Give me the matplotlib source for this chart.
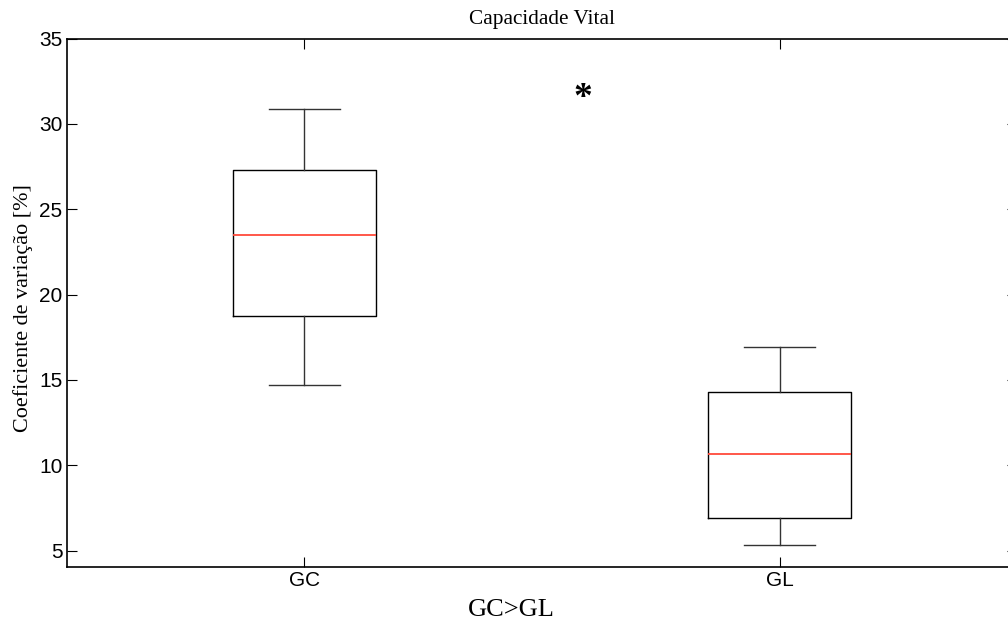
import matplotlib
matplotlib.use("Agg")
import matplotlib.pyplot as plt

# group names and box statistics
groups = ["GC", "GL"]
whisker_low = [14.7, 5.33]
q1 = [18.77, 6.93]
median = [23.5, 10.66]
q3 = [27.3, 14.28]
whisker_high = [30.87, 16.95]

# significance marker
star_x = 1.586
star_y = 31.5

stats = []
for i in range(len(groups)):
    stats.append({"label": groups[i], "whislo": whisker_low[i], "q1": q1[i],
                  "med": median[i], "q3": q3[i], "whishi": whisker_high[i],
                  "fliers": []})

fig = plt.figure(figsize=(10.08, 6.23), dpi=100)
ax = fig.add_axes([66.6 / 1008, 1 - 566.7 / 623, 950.8 / 1008, 528.1 / 623])

box_color = "#333333"
ax.bxp(stats, positions=[1, 2], widths=0.3, showfliers=False,
       boxprops=dict(color="black", linewidth=1.0),
       whiskerprops=dict(color=box_color, linewidth=1.0, linestyle="-"),
       capprops=dict(color=box_color, linewidth=1.0),
       medianprops=dict(color="#ff4a3a", linewidth=1.3),
       capwidths=0.15)

ax.set_xlim(0.5, 2.5)
ax.set_ylim(4.06, 35)
ax.set_yticks([5, 10, 15, 20, 25, 30, 35])
ax.set_xticks([1, 2])
ax.set_xticklabels(groups)

for s in ax.spines.values():
    s.set_linewidth(1.2)

ax.tick_params(direction="in", top=True, right=True, length=7.5, width=0.8,
               labelsize=15, pad=3)
for lab in ax.get_xticklabels() + ax.get_yticklabels():
    lab.set_fontfamily("Liberation Sans")

ax.set_title("Capacidade Vital", fontfamily="Liberation Serif", fontsize=15.3, pad=10.5)
ax.set_ylabel("Coeficiente de variação [%]", fontfamily="Liberation Serif",
              fontsize=15.9)
ax.yaxis.set_label_coords(-34 / 950.8, 0.49)
fig.text(511 / 1008, 1 - 599 / 623, "GC>GL", fontfamily="Liberation Serif",
         fontsize=19, ha="center", va="top")

ax.text(star_x, star_y, "*", fontfamily="Liberation Serif", fontsize=27,
        fontweight="bold", ha="center", va="center")

fig.savefig("out.png", dpi=100)
